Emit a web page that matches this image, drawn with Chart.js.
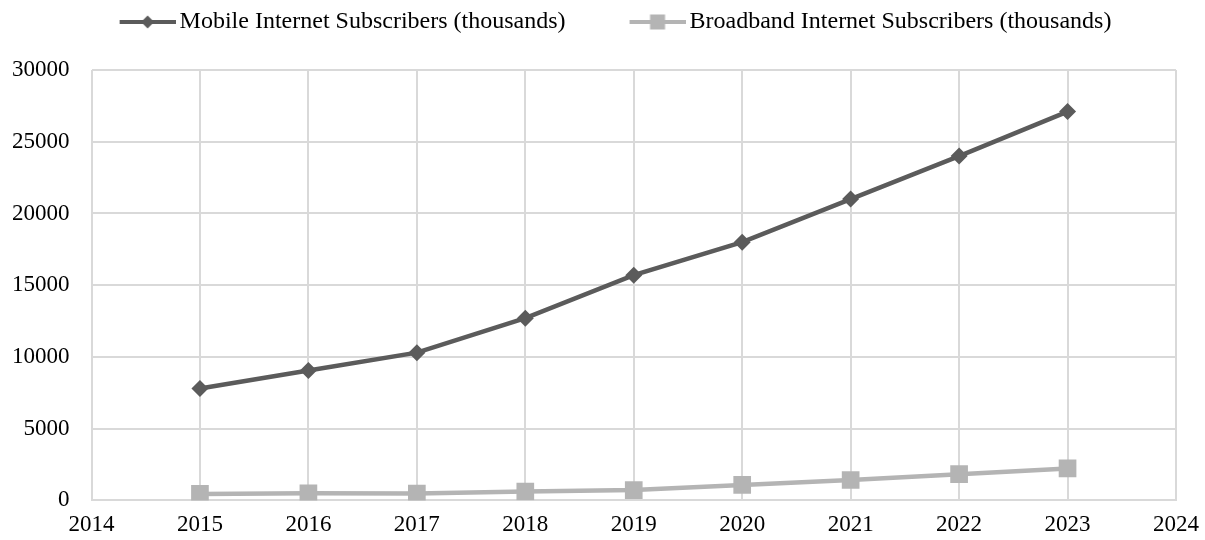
<!DOCTYPE html>
<html>
<head>
<meta charset="utf-8">
<script src="https://cdn.jsdelivr.net/npm/chart.js@4"></script>
<style>
    html, body { margin: 0; padding: 0; background: #fff; }
    #wrap { width: 1205px; height: 540px; }
</style>
</head>
<body>
<div id="wrap"><canvas id="lineC"></canvas></div>
<script>
const years = [2015, 2016, 2017, 2018, 2019, 2020, 2021, 2022, 2023];
const mobileSubs = [7800, 9050, 10300, 12700, 15700, 18000, 21000, 24000, 27100];
const broadbandSubs = [450, 500, 480, 620, 720, 1080, 1420, 1830, 2230];
const seriesNames = ["Mobile Internet Subscribers (thousands)", "Broadband Internet Subscribers (thousands)"];

const darkGrey = "#5b5b5b";
const lightGrey = "#b4b4b4";
const serif = "'Liberation Serif', 'Times New Roman', serif";

// legend symbol: short line with the marker in the middle,
// left part of the image is empty so it acts as spacing between items
function legendSymbol(color, shape) {
    let c = document.createElement("canvas");
    c.width = 118;
    c.height = 18;
    let ctx = c.getContext("2d");
    ctx.strokeStyle = color;
    ctx.lineWidth = 4;
    ctx.beginPath();
    ctx.moveTo(62, 9);
    ctx.lineTo(118, 9);
    ctx.stroke();
    ctx.fillStyle = color;
    if (shape === "diamond") {
        ctx.beginPath();
        ctx.moveTo(90, 2.5);
        ctx.lineTo(96.5, 9);
        ctx.lineTo(90, 15.5);
        ctx.lineTo(83.5, 9);
        ctx.closePath();
        ctx.fill();
    } else {
        ctx.fillRect(82.5, 1.5, 15, 15);
    }
    return c;
}
const symbols = [legendSymbol(darkGrey, "diamond"), legendSymbol(lightGrey, "square")];

function toPoints(values) {
    return years.map((yr, i) => ({ x: yr, y: values[i] }));
}

// extra room under the legend
const legendGap = {
    id: "legendGap",
    beforeInit(chart) {
        const fit = chart.legend.fit;
        chart.legend.fit = function () {
            fit.bind(chart.legend)();
            this.height += 26;
        };
    },
};

let char = document.getElementById("lineC");
let lineChart = new Chart(char, {
    type: "line",
    plugins: [legendGap],
    data: {
        datasets: [
            {
                label: seriesNames[0],
                data: toPoints(mobileSubs),
                borderColor: darkGrey,
                backgroundColor: darkGrey,
                borderWidth: 4.5,
                pointStyle: "rectRot",
                pointRadius: 8.5,
                pointHoverRadius: 8.5,
                pointBorderWidth: 0,
            },
            {
                label: seriesNames[1],
                data: toPoints(broadbandSubs),
                borderColor: lightGrey,
                backgroundColor: lightGrey,
                borderWidth: 4.5,
                pointStyle: "rect",
                pointRadius: 12.5,
                pointHoverRadius: 12.5,
                pointBorderWidth: 0,
            },
        ],
    },
    options: {
        responsive: true,
        maintainAspectRatio: false,
        animation: false,
        layout: {
            padding: { left: 1, right: 29, top: 0, bottom: 1 },
        },
        elements: {
            line: { tension: 0 },
        },
        plugins: {
            tooltip: { enabled: false },
            legend: {
                position: "top",
                labels: {
                    usePointStyle: true,
                    pointStyleWidth: 102,
                    padding: 10,
                    color: "#000",
                    font: { family: serif, size: 24 },
                    generateLabels: (chart) =>
                        chart.data.datasets.map((ds, i) => ({
                            text: ds.label,
                            pointStyle: symbols[i],
                            fillStyle: ds.borderColor,
                            strokeStyle: ds.borderColor,
                            lineWidth: 0,
                            hidden: false,
                            datasetIndex: i,
                        })),
                },
            },
        },
        scales: {
            x: {
                type: "linear",
                min: 2014,
                max: 2024,
                ticks: {
                    stepSize: 1,
                    padding: 0,
                    color: "#000",
                    font: { family: serif, size: 23 },
                    maxRotation: 0,
                    callback: (v) => String(v),
                },
                grid: {
                    color: "#d9d9d9",
                    lineWidth: 2,
                    drawTicks: true,
                    tickLength: 11,
                    tickColor: "rgba(0,0,0,0)",
                },
                border: { color: "#d9d9d9", width: 2 },
            },
            y: {
                min: 0,
                max: 30000,
                ticks: {
                    stepSize: 5000,
                    padding: 11,
                    color: "#000",
                    font: { family: serif, size: 23 },
                    callback: (v) => String(v),
                },
                grid: {
                    color: "#d9d9d9",
                    lineWidth: 2,
                    drawTicks: true,
                    tickLength: 11,
                    tickColor: "rgba(0,0,0,0)",
                },
                border: { display: false },
            },
        },
    },
});
</script>
</body>
</html>
